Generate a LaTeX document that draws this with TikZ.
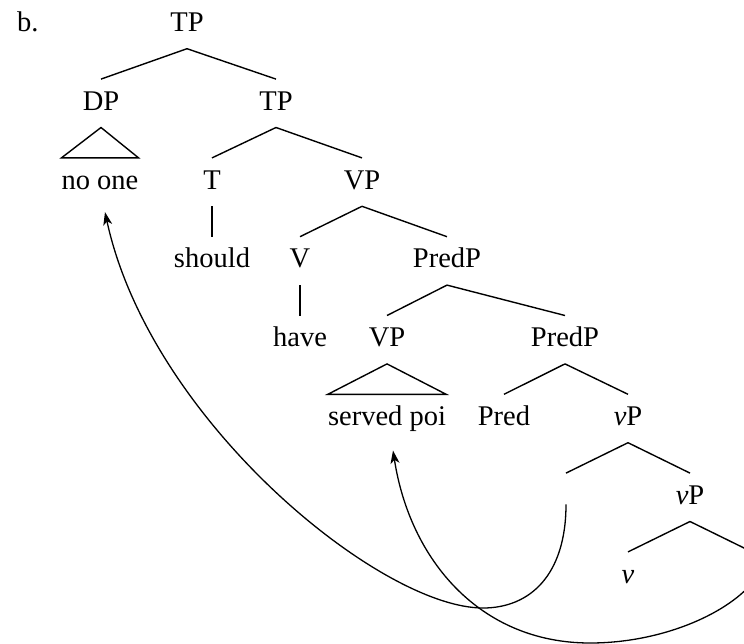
\documentclass[tikz,border=0pt]{standalone}
\usepackage{fontspec}
\setmainfont{Liberation Serif}
\usetikzlibrary{arrows.meta}
\begin{document}
\begin{tikzpicture}[x=1pt,y=-1pt,
  tn/.style={anchor=base, inner xsep=0pt, inner ysep=0pt, text height=31pt, text depth=17pt, font=\fontsize{28.5}{32}\selectfont},
  br/.style={line width=1.4pt},
  mv/.style={line width=1.3pt, -{Stealth[length=13pt,width=9pt,inset=3.5pt]}}]
\useasboundingbox (0,0) rectangle (744,643);
\node[anchor=base west, inner sep=0pt, font=\fontsize{28.5}{32}\selectfont] (lbl) at (17,31.5) {b.};
\node[tn] (tp1) at (187,31.5) {TP};
\node[tn] (dp) at (101,110.3) {DP};
\node[tn] (tp2) at (276,110.3) {TP};
\node[tn] (noone) at (100,189.1) {no one};
\node[tn] (t) at (212,189.1) {T};
\node[tn] (vp1) at (362,189.1) {VP};
\node[tn] (should) at (212,267.9) {should};
\node[tn] (v) at (300,267.9) {V};
\node[tn] (predp1) at (447,267.9) {PredP};
\node[tn] (have) at (300,346.7) {have};
\node[tn] (vp2) at (387,346.7) {VP};
\node[tn] (predp2) at (565,346.7) {PredP};
\node[tn] (served) at (387,425.5) {served poi};
\node[tn] (pred) at (504,425.5) {Pred};
\node[tn] (lvp1) at (628,425.5) {\textit{ν}P};
\node[tn] (e1) at (566,504.3) {};
\node[tn] (lvp2) at (690,504.3) {\textit{ν}P};
\node[tn] (lv) at (628,583.1) {\textit{ν}};
\node[tn] (e2) at (752,583.1) {};
% branches
\draw[br] (tp1.south) -- (dp.north);
\draw[br] (tp1.south) -- (tp2.north);
\draw[br] (dp.south) -- (noone.north west) -- (noone.north east) -- cycle;
\draw[br] (tp2.south) -- (t.north);
\draw[br] (tp2.south) -- (vp1.north);
\draw[br] (t.south) -- (should.north);
\draw[br] (vp1.south) -- (v.north);
\draw[br] (vp1.south) -- (predp1.north);
\draw[br] (v.south) -- (have.north);
\draw[br] (predp1.south) -- (vp2.north);
\draw[br] (predp1.south) -- (predp2.north);
\draw[br] (vp2.south) -- (served.north west) -- (served.north east) -- cycle;
\draw[br] (predp2.south) -- (pred.north);
\draw[br] (predp2.south) -- (lvp1.north);
\draw[br] (lvp1.south) -- (e1.north);
\draw[br] (lvp1.south) -- (lvp2.north);
\draw[br] (lvp2.south) -- (lv.north);
\draw[br] (lvp2.south) -- (e2.north);
% movement arrows
\draw[mv] (e1.base) .. controls (566,575) and (530,608) .. (483,608)
  .. controls (380,608) and (150,420) .. ([xshift=5pt,yshift=-23pt]noone.base);
\draw[mv] (e2.base) .. controls (725,615) and (660,643) .. (590,643)
  .. controls (480,643) and (410,560) .. ([xshift=6pt,yshift=-25pt]served.base);
\end{tikzpicture}
\end{document}
